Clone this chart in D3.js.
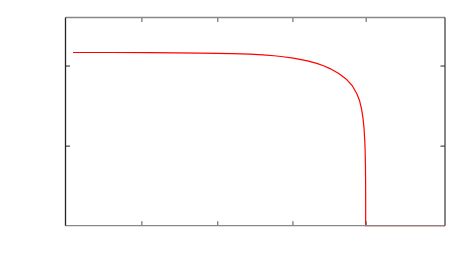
<!DOCTYPE html>
<html><head><meta charset="utf-8">
<script src="https://cdn.jsdelivr.net/npm/d3@7"></script>
<style>html,body{margin:0;padding:0;background:#fff;}</style>
</head><body>
<script>
const xValues = [0.099, 0.6, 1.113, 1.772, 2.2, 2.431, 2.6, 2.75, 2.866, 3.0, 3.09, 3.2, 3.31, 3.4, 3.485, 3.6, 3.705, 3.78, 3.837, 3.875, 3.902, 3.92, 3.933, 3.942, 3.948, 3.952, 3.954, 3.955, 3.955, 5.0];
const yValues = [2.163, 2.163, 2.161, 2.156, 2.149, 2.142, 2.134, 2.122, 2.110, 2.092, 2.077, 2.055, 2.027, 1.997, 1.962, 1.900, 1.825, 1.745, 1.650, 1.560, 1.450, 1.340, 1.220, 1.080, 0.930, 0.740, 0.550, 0.370, 0, 0];
const xTicks = [1, 2, 2.99, 3.955];
const yTicks = [1, 2];

const W = 472, H = 275;
const m = {left: 65.5, right: 27, top: 17.5, bottom: 49.3};
const svg = d3.select("body").append("svg").attr("width", W).attr("height", H);
const x = d3.scaleLinear().domain([0, 5]).range([m.left, W - m.right]);
const y = d3.scaleLinear().domain([0, 2.6]).range([H - m.bottom, m.top]);

const data = xValues.map((v, i) => [v, yValues[i]]);
svg.append("path").datum(data)
  .attr("fill", "none").attr("stroke", "#ff0000").attr("stroke-width", 1.2)
  .attr("stroke-linejoin", "round")
  .attr("d", d3.line().x(d => x(d[0])).y(d => y(d[1])));

const tl = 4.5;
function styleAxis(g, color) {
  g.select(".domain").remove();
  g.selectAll(".tick line").attr("stroke", color).attr("stroke-width", 1);
  g.selectAll(".tick text").remove();
}
svg.append("g").attr("transform", `translate(0,${y(0)})`)
  .call(d3.axisTop(x).tickValues(xTicks).tickSize(tl)).call(g => styleAxis(g, "#555"));
svg.append("g").attr("transform", `translate(0,${y(2.6)})`)
  .call(d3.axisBottom(x).tickValues(xTicks).tickSize(tl)).call(g => styleAxis(g, "#555"));
svg.append("g").attr("transform", `translate(${x(0)},0)`)
  .call(d3.axisRight(y).tickValues(yTicks).tickSize(tl)).call(g => styleAxis(g, "#222"));
svg.append("g").attr("transform", `translate(${x(5)},0)`)
  .call(d3.axisLeft(y).tickValues(yTicks).tickSize(tl)).call(g => styleAxis(g, "#222"));

// frame
svg.append("line").attr("x1", x(0)).attr("x2", x(5)).attr("y1", y(2.6)).attr("y2", y(2.6)).attr("stroke", "#888").attr("stroke-width", 1.3);
svg.append("line").attr("x1", x(0)).attr("x2", x(5)).attr("y1", y(0)).attr("y2", y(0)).attr("stroke", "#888").attr("stroke-width", 1.3);
svg.append("line").attr("x1", x(0)).attr("x2", x(0)).attr("y1", y(0)).attr("y2", y(2.6)).attr("stroke", "#222").attr("stroke-width", 1.3);
svg.append("line").attr("x1", x(5)).attr("x2", x(5)).attr("y1", y(0)).attr("y2", y(2.6)).attr("stroke", "#444").attr("stroke-width", 1.3);
</script>
</body></html>
